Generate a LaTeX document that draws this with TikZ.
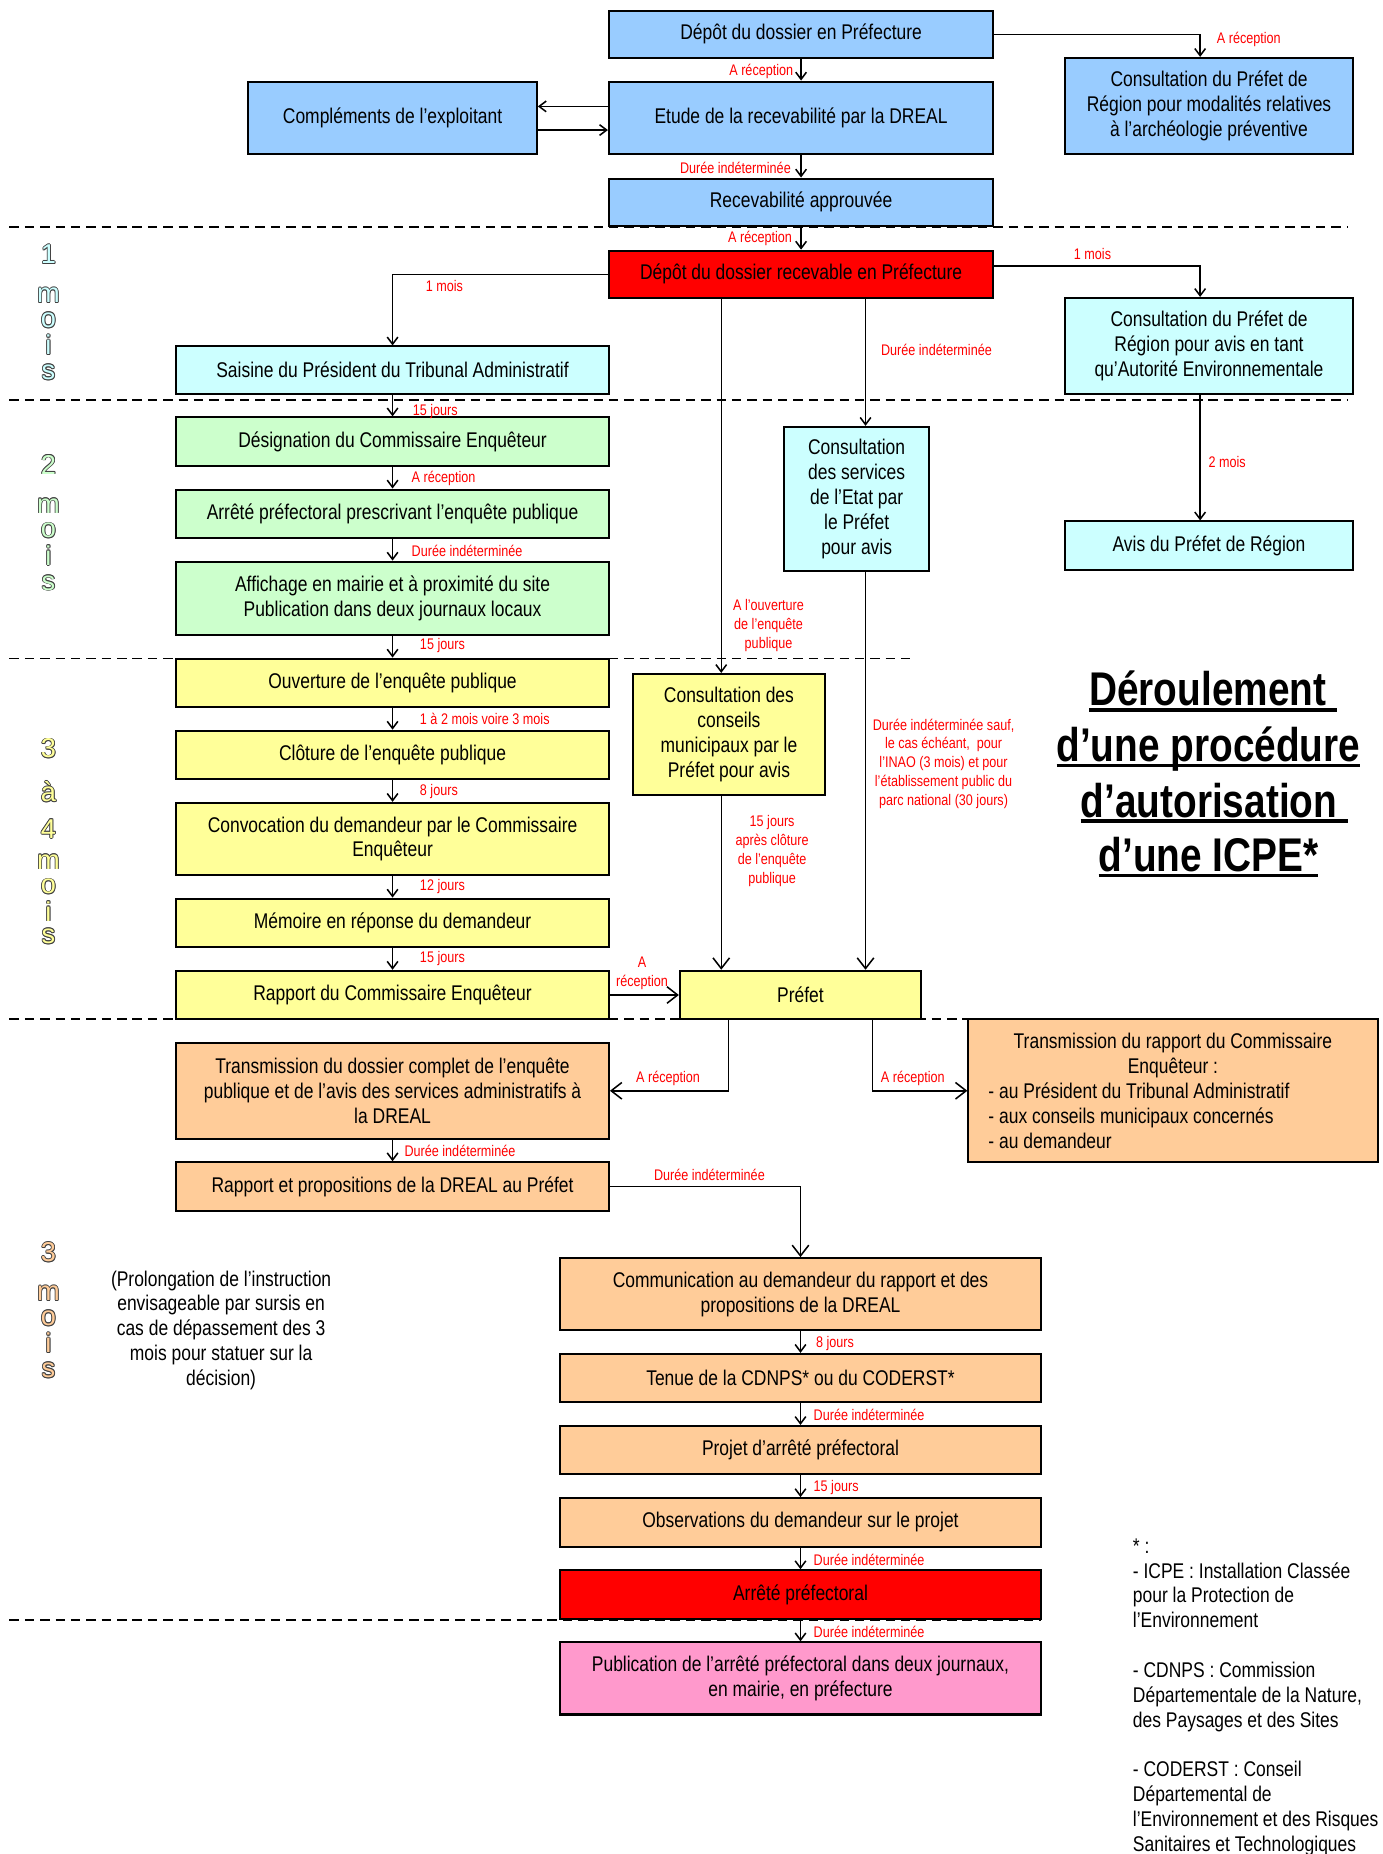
\documentclass[tikz,border=0pt]{standalone}
\usepackage{fontspec}
\setmainfont{Liberation Sans}[FakeStretch=0.82]
\newfontfamily\widefont{Liberation Sans}
\usetikzlibrary{arrows.meta}
\definecolor{cblue}{HTML}{99CCFF}
\definecolor{ccyan}{HTML}{CCFFFF}
\definecolor{cgreen}{HTML}{CCFFCC}
\definecolor{cyellow}{HTML}{FFFF99}
\definecolor{corange}{HTML}{FFCC99}
\definecolor{cpink}{HTML}{FF99CC}
\definecolor{cred}{HTML}{FF0000}
\definecolor{olc}{HTML}{404040}
\newcommand\olt[2]{\leavevmode
 \rlap{\kern-.7pt\textcolor{olc}{#2}}%
 \rlap{\kern.7pt\textcolor{olc}{#2}}%
 \rlap{\raisebox{.7pt}{\textcolor{olc}{#2}}}%
 \rlap{\raisebox{-.7pt}{\textcolor{olc}{#2}}}%
 \rlap{\kern-.5pt\raisebox{.5pt}{\textcolor{olc}{#2}}}%
 \rlap{\kern.5pt\raisebox{.5pt}{\textcolor{olc}{#2}}}%
 \rlap{\kern-.5pt\raisebox{-.5pt}{\textcolor{olc}{#2}}}%
 \rlap{\kern.5pt\raisebox{-.5pt}{\textcolor{olc}{#2}}}%
 \textcolor{#1}{#2}}
\newcommand\ulin[1]{\setbox0=\hbox{#1}\rlap{\rule[-5pt]{\wd0}{3pt}}\box0}
\newcommand\ctrline[1]{\hbox to 312pt{\hfil #1\hfil}}
\begin{document}
\begin{tikzpicture}[x=1pt,y=-1pt,
 box/.style={draw=black, line width=1.7pt, fill=#1, rectangle, inner sep=2pt, align=center, font=\fontsize{18}{21}\selectfont},
 lab/.style={text=cred, font=\fontsize{13}{16}\selectfont, inner sep=0pt, align=center},
 conn/.style={line width=1.3pt, -{Straight Barb[length=6pt,width=9pt]}},
 bconn/.style={line width=1.3pt, -{Straight Barb[length=9pt,width=14pt]}},
 sep/.style={line width=1.5pt, dash pattern=on 8pt off 5pt},
 vlet/.style={font=\widefont\fontsize{23}{23}\selectfont, inner sep=0pt, anchor=base},
 ttl/.style={font=\fontsize{40}{47}\selectfont\bfseries, inner sep=0pt, anchor=base},
 note/.style={font=\fontsize{18}{21}\selectfont, inner sep=0pt},
]
\useasboundingbox (0,0) rectangle (1169,1568);

% period separators
\draw[sep] (8,192) -- (1140,192);
\draw[sep] (8,338) -- (1140,338);
\draw[sep] (8,557) -- (773,557);
\draw[sep] (8,862) -- (1140,862);
\draw[sep] (8,1370) -- (880,1370);

% helper coordinates
\coordinate (yA) at (0,90);
\coordinate (yB) at (0,110);
\coordinate (yC) at (0,225);
\coordinate (xAE) at (1015,0);
\coordinate (xM1) at (610,0);
\coordinate (xM2) at (732,0);
\coordinate (xM3) at (616,0);
\coordinate (xM4) at (738,0);

% boxes
\node[box=cblue, minimum width=325, minimum height=40] (b1) at (677.5,29) {Dépôt du dossier en Préfecture};
\node[box=cblue, minimum width=243, minimum height=81] (arch) at (1022.5,89.5) {Consultation du Préfet de\\Région pour modalités relatives\\à l’archéologie préventive};
\node[box=cblue, minimum width=244, minimum height=61] (b2) at (332,99.5) {Compléments de l’exploitant};
\node[box=cblue, minimum width=325, minimum height=61] (b3) at (677.5,99.5) {Etude de la recevabilité par la DREAL};
\node[box=cblue, minimum width=325, minimum height=40] (b4) at (677.5,171) {Recevabilité approuvée};
\node[box=cred, minimum width=325, minimum height=40] (b5) at (677.5,232) {Dépôt du dossier recevable en Préfecture};
\node[box=ccyan, minimum width=243, minimum height=81] (ae) at (1022.5,292.5) {Consultation du Préfet de\\Région pour avis en tant\\qu’Autorité Environnementale};
\node[box=ccyan, minimum width=366, minimum height=40] (saisine) at (332,313) {Saisine du Président du Tribunal Administratif};
\node[box=cgreen, minimum width=366, minimum height=41] (desig) at (332,373.5) {Désignation du Commissaire Enquêteur};
\node[box=cgreen, minimum width=366, minimum height=41] (arr1) at (332,434.5) {Arrêté préfectoral prescrivant l’enquête publique};
\node[box=cgreen, minimum width=366, minimum height=62] (affi) at (332,506) {Affichage en mairie et à proximité du site\\Publication dans deux journaux locaux};
\node[box=ccyan, minimum width=123, minimum height=122] (serv) at (724.5,422) {Consultation\\des services\\de l’Etat par\\le Préfet\\pour avis};
\node[box=ccyan, minimum width=243, minimum height=41] (avis) at (1022.5,461.5) {Avis du Préfet de Région};
\node[box=cyellow, minimum width=366, minimum height=41] (ouv) at (332,577.5) {Ouverture de l’enquête publique};
\node[box=cyellow, minimum width=163, minimum height=102] (cons) at (616.5,621) {Consultation des\\conseils\\municipaux par le\\Préfet pour avis};
\node[box=cyellow, minimum width=366, minimum height=41] (clot) at (332,638.5) {Clôture de l’enquête publique};
\node[box=cyellow, minimum width=366, minimum height=61] (conv) at (332,709.5) {Convocation du demandeur par le Commissaire\\Enquêteur};
\node[box=cyellow, minimum width=366, minimum height=41] (mem) at (332,780.5) {Mémoire en réponse du demandeur};
\node[box=cyellow, minimum width=366, minimum height=41] (rap) at (332,841.5) {Rapport du Commissaire Enquêteur};
\node[box=cyellow, minimum width=204, minimum height=41] (pref) at (677,841.5) {Préfet};
\node[box=corange, minimum width=366, minimum height=81] (td) at (332,922.5) {Transmission du dossier complet de l’enquête\\publique et de l’avis des services administratifs à\\la DREAL};
\node[box=corange, minimum width=366, minimum height=41] (rp) at (332,1003.5) {Rapport et propositions de la DREAL au Préfet};
\node[box=corange, minimum width=346, minimum height=121, align=left] (tr) at (992,922.5) {\ctrline{Transmission du rapport du Commissaire}\\\ctrline{Enquêteur :}\\- au Président du Tribunal Administratif\\- aux conseils municipaux concernés\\- au demandeur};
\node[box=corange, minimum width=406, minimum height=61] (comm) at (677,1094.5) {Communication au demandeur du rapport et des\\propositions de la DREAL};
\node[box=corange, minimum width=406, minimum height=41] (tenue) at (677,1165.5) {Tenue de la CDNPS* ou du CODERST*};
\node[box=corange, minimum width=406, minimum height=41] (proj) at (677,1226.5) {Projet d’arrêté préfectoral};
\node[box=corange, minimum width=406, minimum height=41] (obs) at (677,1287.5) {Observations du demandeur sur le projet};
\node[box=cred, minimum width=406, minimum height=41] (arr2) at (677,1348.5) {Arrêté préfectoral};
\node[box=cpink, minimum width=406, minimum height=61] (publi) at (677,1419.5) {Publication de l’arrêté préfectoral dans deux journaux,\\en mairie, en préfecture};

% connectors
\draw[conn] (b1) -- (b3);
\draw[conn] (b3) -- (b4);
\draw[conn] (b4) -- (b5);
\draw[conn] (b1.east) -| (arch.north -| xAE) ;
\draw[conn] (b3.west |- yA) -- (b2.east |- yA);
\draw[conn] (b2.east |- yB) -- (b3.west |- yB);
\draw[conn] (b5.west) -| (saisine.north);
\draw[conn] (b5.east |- yC) -| (xAE |- ae.north);
\draw[conn] (xAE |- ae.south) -- (xAE |- avis.north);
\draw[conn] (xM1 |- b5.south) -- (xM1 |- cons.north);
\draw[conn] (xM2 |- b5.south) -- (xM2 |- serv.north);
\draw[bconn] (xM2 |- serv.south) -- (xM2 |- pref.north);
\draw[bconn] (xM1 |- cons.south) -- (xM1 |- pref.north);
\draw[conn] (saisine) -- (desig);
\draw[conn] (desig) -- (arr1);
\draw[conn] (arr1) -- (affi);
\draw[conn] (affi) -- (ouv);
\draw[conn] (ouv) -- (clot);
\draw[conn] (clot) -- (conv);
\draw[conn] (conv) -- (mem);
\draw[conn] (mem) -- (rap);
\draw[bconn] (rap) -- (pref);
\draw[bconn] (xM3 |- pref.south) |- (td.east);
\draw[bconn] (xM4 |- pref.south) |- (tr.west);
\draw[conn] (td) -- (rp);
\draw[bconn] (rp.east) -| (comm.north);
\draw[conn] (comm) -- (tenue);
\draw[conn] (tenue) -- (proj);
\draw[conn] (proj) -- (obs);
\draw[conn] (obs) -- (arr2);
\draw[conn] (arr2) -- (publi);

% connector labels
\node[lab, anchor=west] (l1) at (1029,33) {A réception};
\node[lab, anchor=east] (l2) at (671,60) {A réception};
\node[lab, anchor=east] (l3) at (669,142) {Durée indéterminée};
\node[lab, anchor=east] (l4) at (670,202) {A réception};
\node[lab] (l5) at (924,215) {1 mois};
\node[lab, anchor=west] (l6) at (360,242) {1 mois};
\node[lab, anchor=west] (l7) at (745,296) {Durée indéterminée};
\node[lab, anchor=west] (l8) at (349,348) {15 jours};
\node[lab, anchor=west] (l9) at (348,405) {A réception};
\node[lab, anchor=west] (l10) at (348,466) {Durée indéterminée};
\node[lab, anchor=west] (l11) at (355,546) {15 jours};
\node[lab, anchor=west] (l12) at (355,608) {1 à 2 mois voire 3 mois};
\node[lab, anchor=west] (l13) at (355,669) {8 jours};
\node[lab, anchor=west] (l14) at (355,750) {12 jours};
\node[lab, anchor=west] (l15) at (355,811) {15 jours};
\node[lab] (l16) at (543,823) {A\\réception};
\node[lab, anchor=west] (l17) at (1022,391) {2 mois};
\node[lab] (l18) at (650,529) {A l’ouverture\\de l’enquête\\publique};
\node[lab] (l19) at (798,646) {Durée indéterminée sauf,\\le cas échéant,~ pour\\l’INAO (3 mois) et pour\\l’établissement public du\\parc national (30 jours)};
\node[lab] (l20) at (653,720) {15 jours\\après clôture\\de l’enquête\\publique};
\node[lab] (l21) at (565,912) {A réception};
\node[lab] (l22) at (772,912) {A réception};
\node[lab, anchor=west] (l23) at (342,973) {Durée indéterminée};
\node[lab] (l24) at (600,994) {Durée indéterminée};
\node[lab, anchor=west] (l25) at (690,1136) {8 jours};
\node[lab, anchor=west] (l26) at (688,1197) {Durée indéterminée};
\node[lab, anchor=west] (l27) at (688,1258) {15 jours};
\node[lab, anchor=west] (l28) at (688,1319) {Durée indéterminée};
\node[lab, anchor=west] (l29) at (688,1380) {Durée indéterminée};

% title
\node[ttl] (t1) at (1026,597) {\ulin{Déroulement\ }};
\node[ttl] (t2) at (1022,644) {\ulin{d’une procédure}};
\node[ttl] (t3) at (1027,691) {\ulin{d’autorisation\ }};
\node[ttl] (t4) at (1022,737) {\ulin{d’une ICPE*}};

% notes
\node[note, align=center] (prol) at (187,1125) {(Prolongation de l’instruction\\envisageable par sursis en\\cas de dépassement des 3\\mois pour statuer sur la\\décision)};
\node[note, align=left, anchor=north west] (foot) at (958,1301) {* :\\- ICPE : Installation Classée\\pour la Protection de\\l’Environnement\\[21pt]- CDNPS : Commission\\Départementale de la Nature,\\des Paysages et des Sites\\[21pt]- CODERST : Conseil\\Départemental de\\l’Environnement et des Risques\\Sanitaires et Technologiques};

% vertical period labels
\node[vlet] (p1a) at (41,223) {\olt{ccyan}{1}};
\node[vlet] (p1b) at (41,256) {\olt{ccyan}{m}};
\node[vlet] (p1c) at (41,277) {\olt{ccyan}{o}};
\node[vlet] (p1d) at (41,300) {\olt{ccyan}{i}};
\node[vlet] (p1e) at (41,321) {\olt{ccyan}{s}};
\node[vlet] (p2a) at (41,401) {\olt{cgreen}{2}};
\node[vlet] (p2b) at (41,434) {\olt{cgreen}{m}};
\node[vlet] (p2c) at (41,455) {\olt{cgreen}{o}};
\node[vlet] (p2d) at (41,478) {\olt{cgreen}{i}};
\node[vlet] (p2e) at (41,499) {\olt{cgreen}{s}};
\node[vlet] (p3a) at (41,641) {\olt{cyellow}{3}};
\node[vlet] (p3b) at (41,678) {\olt{cyellow}{à}};
\node[vlet] (p3c) at (41,709) {\olt{cyellow}{4}};
\node[vlet] (p3d) at (41,735) {\olt{cyellow}{m}};
\node[vlet] (p3e) at (41,756) {\olt{cyellow}{o}};
\node[vlet] (p3f) at (41,779) {\olt{cyellow}{i}};
\node[vlet] (p3g) at (41,798) {\olt{cyellow}{s}};
\node[vlet] (p4a) at (41,1067) {\olt{corange}{3}};
\node[vlet] (p4b) at (41,1100) {\olt{corange}{m}};
\node[vlet] (p4c) at (41,1121) {\olt{corange}{o}};
\node[vlet] (p4d) at (41,1144) {\olt{corange}{i}};
\node[vlet] (p4e) at (41,1165) {\olt{corange}{s}};
\end{tikzpicture}
\end{document}
